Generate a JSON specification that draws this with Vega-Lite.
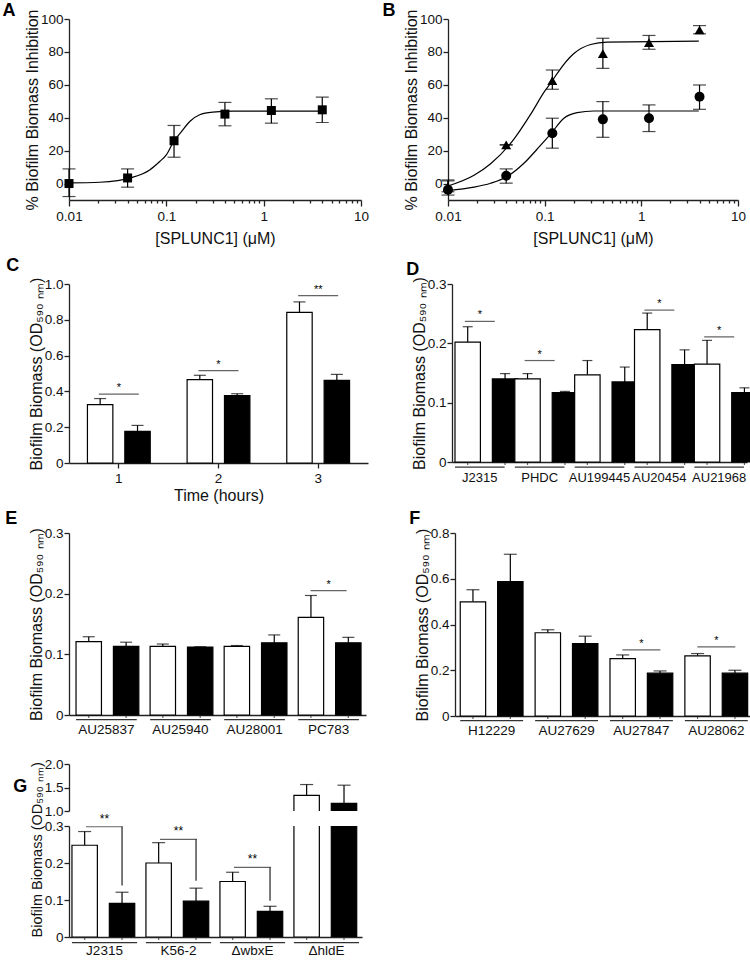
{
"$schema": "https://vega.github.io/schema/vega-lite/v6.json",
"background": "white",
"padding": {"left": 2, "top": 2, "right": 2, "bottom": 0},
"datasets": {
"curveA": [{"x":0.01,"y":0.4},{"x":0.0207,"y":0.8},{"x":0.0455,"y":3.9},{"x":0.0675,"y":8.3},{"x":0.0855,"y":13.4},{"x":0.1,"y":17.4},{"x":0.119,"y":25.6},{"x":0.143,"y":31.6},{"x":0.174,"y":37.7},{"x":0.22,"y":41.8},{"x":0.3,"y":43.4},{"x":0.48,"y":44},{"x":4.2,"y":44}],
"ptsA": [{"x":0.01,"y":0,"lo":-7.9,"hi":8.9},{"x":0.04,"y":3.4,"lo":-2.2,"hi":8.9},{"x":0.12,"y":26,"lo":16,"hi":35.3},{"x":0.4,"y":42.2,"lo":35.1,"hi":49.3},{"x":1.2,"y":44.4,"lo":36.7,"hi":51.5},{"x":4,"y":44.8,"lo":37.1,"hi":52.5}],
"curveB": [{"s":"t","x":0.01,"y":-1.5},{"s":"t","x":0.0186,"y":5},{"s":"t","x":0.0276,"y":12},{"s":"t","x":0.0481,"y":27},{"s":"t","x":0.0715,"y":42},{"s":"t","x":0.0997,"y":56},{"s":"t","x":0.12,"y":62.5},{"s":"t","x":0.135,"y":67},{"s":"t","x":0.2005,"y":79},{"s":"t","x":0.298,"y":84.5},{"s":"t","x":0.443,"y":86},{"s":"t","x":3.93,"y":86.5},
{"s":"c","x":0.01,"y":-4.3},{"s":"c","x":0.0186,"y":-2.2},{"s":"c","x":0.0276,"y":0.2},{"s":"c","x":0.041,"y":4.3},{"s":"c","x":0.061,"y":12.3},{"s":"c","x":0.0838,"y":21},{"s":"c","x":0.115,"y":30},{"s":"c","x":0.158,"y":39.7},{"s":"c","x":0.217,"y":43.1},{"s":"c","x":0.323,"y":44.1},{"s":"c","x":3.93,"y":44.1}],
"ptsB": [{"s":"t","x":0.01,"y":-2,"lo":-5,"hi":1.6},{"s":"t","x":0.04,"y":23.5,"lo":23.5,"hi":23.5},{"s":"t","x":0.12,"y":62.5,"lo":57.3,"hi":69},{"s":"t","x":0.4,"y":79,"lo":70,"hi":88.3},{"s":"t","x":1.2,"y":85.6,"lo":81.6,"hi":90},{"s":"t","x":4,"y":93.3,"lo":91,"hi":96},
{"s":"c","x":0.01,"y":-3.8,"lo":-7,"hi":2.2},{"s":"c","x":0.04,"y":4.7,"lo":0.2,"hi":8.9},{"s":"c","x":0.12,"y":30.6,"lo":21.5,"hi":39.7},{"s":"c","x":0.4,"y":39,"lo":28.1,"hi":49.8},{"s":"c","x":1.2,"y":39.7,"lo":31.6,"hi":47.8},{"s":"c","x":4,"y":52.8,"lo":45.1,"hi":59.9}],
"C": [{"g":"1","c":"w","v":0.326,"hi":0.36},{"g":"1","c":"b","v":0.177,"hi":0.21},{"g":"2","c":"w","v":0.466,"hi":0.49},{"g":"2","c":"b","v":0.376,"hi":0.387},{"g":"3","c":"w","v":0.842,"hi":0.9},{"g":"3","c":"b","v":0.462,"hi":0.495}],
"Csig": [{"g":"1","y":0.385,"s":"*"},{"g":"2","y":0.516,"s":"*"},{"g":"3","y":0.935,"s":"**"}],
"D": [{"g":"J2315","c":"w","v":0.202,"hi":0.228},{"g":"J2315","c":"b","v":0.14,"hi":0.149},{"g":"PHDC","c":"w","v":0.14,"hi":0.149},{"g":"PHDC","c":"b","v":0.117,"hi":0.119},{"g":"AU199445","c":"w","v":0.147,"hi":0.171},{"g":"AU199445","c":"b","v":0.135,"hi":0.16},{"g":"AU20454","c":"w","v":0.223,"hi":0.251},{"g":"AU20454","c":"b","v":0.164,"hi":0.189},{"g":"AU21968","c":"w","v":0.165,"hi":0.205},{"g":"AU21968","c":"b","v":0.117,"hi":0.125}],
"Dsig": [{"g":"J2315","y":0.237,"s":"*"},{"g":"PHDC","y":0.171,"s":"*"},{"g":"AU20454","y":0.256,"s":"*"},{"g":"AU21968","y":0.211,"s":"*"}],
"Dg": [{"g":"J2315"},{"g":"PHDC"},{"g":"AU199445"},{"g":"AU20454"},{"g":"AU21968"}],
"E": [{"g":"AU25837","c":"w","v":0.121,"hi":0.129},{"g":"AU25837","c":"b","v":0.113,"hi":0.12},{"g":"AU25940","c":"w","v":0.113,"hi":0.117},{"g":"AU25940","c":"b","v":0.112,"hi":0.1125},{"g":"AU28001","c":"w","v":0.113,"hi":0.1145},{"g":"AU28001","c":"b","v":0.119,"hi":0.132},{"g":"PC783","c":"w","v":0.161,"hi":0.197},{"g":"PC783","c":"b","v":0.119,"hi":0.128}],
"Esig": [{"g":"PC783","y":0.205,"s":"*"}],
"Eg": [{"g":"AU25837"},{"g":"AU25940"},{"g":"AU28001"},{"g":"PC783"}],
"F": [{"g":"H12229","c":"w","v":0.499,"hi":0.552},{"g":"H12229","c":"b","v":0.587,"hi":0.707},{"g":"AU27629","c":"w","v":0.364,"hi":0.377},{"g":"AU27629","c":"b","v":0.317,"hi":0.349},{"g":"AU27847","c":"w","v":0.251,"hi":0.267},{"g":"AU27847","c":"b","v":0.187,"hi":0.197},{"g":"AU28062","c":"w","v":0.263,"hi":0.273},{"g":"AU28062","c":"b","v":0.187,"hi":0.2}],
"Fsig": [{"g":"AU27847","y":0.289,"s":"*"},{"g":"AU28062","y":0.302,"s":"*"}],
"Fg": [{"g":"H12229"},{"g":"AU27629"},{"g":"AU27847"},{"g":"AU28062"}],
"G": [{"g":"J2315","c":"w","v":0.248,"hi":0.285},{"g":"J2315","c":"b","v":0.091,"hi":0.121},{"g":"K56-2","c":"w","v":0.2,"hi":0.255},{"g":"K56-2","c":"b","v":0.097,"hi":0.132},{"g":"ΔwbxE","c":"w","v":0.15,"hi":0.175},{"g":"ΔwbxE","c":"b","v":0.069,"hi":0.083},{"g":"ΔhldE","c":"w","v":1.331,"hi":1.563},{"g":"ΔhldE","c":"b","v":1.162,"hi":1.549}],
"Gsig": [{"g":"J2315","c":"b","y":0.298,"low":0.139,"s":"**"},{"g":"K56-2","c":"b","y":0.264,"low":0.152,"s":"**"},{"g":"ΔwbxE","c":"b","y":0.188,"low":0.098,"s":"**"}],
"Gg": [{"g":"J2315"},{"g":"K56-2"},{"g":"ΔwbxE"},{"g":"ΔhldE"}]
},
"config": {
"font": "Liberation Sans",
"view": {"stroke": null},
"axis": {"grid": false, "domainColor": "#222", "domainWidth": 1.3, "tickColor": "#222", "tickWidth": 1.3, "tickSize": 5, "labelColor": "#111", "labelFontSize": 13.5, "labelFont": "Liberation Sans", "titleFont": "Liberation Sans", "titleFontSize": 16, "titleFontWeight": "normal", "titleColor": "#111", "labelPadding": 3, "titlePadding": 3, "labelFlush": false, "labelOverlap": false},
"axisX": {"labelAngle": 0},
"axisY": {"titlePadding": 0, "labelPadding": 1},
"text": {"color": "black"},
"title": {"fontSize": 18, "fontWeight": "bold", "font": "Liberation Sans", "anchor": "start", "frame": "bounds", "color": "black", "offset": 2}
},
"spacing": 20,
"vconcat": [
{"vconcat": [
{"hconcat": [
{
"width": 292, "height": 181,
"title": {"text": "A", "dx": -22, "offset": -11},
"layer": [
{"data": {"name": "curveA"}, "mark": {"type": "line", "color": "black", "strokeWidth": 1.2, "interpolate": "monotone"},
 "encoding": {
  "x": {"field": "x", "type": "quantitative", "scale": {"type": "log", "domain": [0.01, 10]}, "title": "[SPLUNC1] (μM)",
        "axis": {"labelOverlap": false, "tickCount": 100, "titlePadding": 8, "values": [0.01,0.02,0.03,0.04,0.05,0.06,0.07,0.08,0.09,0.1,0.2,0.3,0.4,0.5,0.6,0.7,0.8,0.9,1,2,3,4,5,6,7,8,9,10],
                 "labelExpr": "datum.value == 0.01 ? '0.01' : datum.value == 0.1 ? '0.1' : datum.value == 1 ? '1' : datum.value == 10 ? '10' : ''",
                 "tickSize": {"condition": {"test": "datum.value == 0.01 || datum.value == 0.1 || datum.value == 1 || datum.value == 10", "value": 6}, "value": 3}}},
  "y": {"field": "y", "type": "quantitative", "scale": {"domain": [-10, 100], "nice": false}, "title": "% Biofilm Biomass Inhibition", "axis": {"labelOverlap": false, "tickCount": 100, "values": [0,20,40,60,80,100]}}
 }},
{"data": {"name": "ptsA"}, "encoding": {"x": {"field": "x", "type": "quantitative"}},
 "layer": [
  {"mark": {"type": "rule", "color": "black", "strokeWidth": 1.2}, "encoding": {"y": {"field": "lo", "type": "quantitative"}, "y2": {"field": "hi"}}},
  {"mark": {"type": "tick", "orient": "horizontal", "color": "black", "size": 13, "thickness": 1.2}, "encoding": {"y": {"field": "hi", "type": "quantitative"}}},
  {"mark": {"type": "tick", "orient": "horizontal", "color": "black", "size": 13, "thickness": 1.2}, "encoding": {"y": {"field": "lo", "type": "quantitative"}}},
  {"mark": {"type": "point", "shape": "square", "filled": true, "color": "black", "size": 81, "opacity": 1}, "encoding": {"y": {"field": "y", "type": "quantitative"}}}
 ]}
]
},
{
"width": 290, "height": 181,
"title": {"text": "B", "dx": -21, "offset": -11},
"layer": [
{"data": {"name": "curveB"}, "mark": {"type": "line", "color": "black", "strokeWidth": 1.2, "interpolate": "monotone"},
 "encoding": {
  "detail": {"field": "s"},
  "x": {"field": "x", "type": "quantitative", "scale": {"type": "log", "domain": [0.01, 10]}, "title": "[SPLUNC1] (μM)",
        "axis": {"labelOverlap": false, "tickCount": 100, "titlePadding": 8, "values": [0.01,0.02,0.03,0.04,0.05,0.06,0.07,0.08,0.09,0.1,0.2,0.3,0.4,0.5,0.6,0.7,0.8,0.9,1,2,3,4,5,6,7,8,9,10],
                 "labelExpr": "datum.value == 0.01 ? '0.01' : datum.value == 0.1 ? '0.1' : datum.value == 1 ? '1' : datum.value == 10 ? '10' : ''",
                 "tickSize": {"condition": {"test": "datum.value == 0.01 || datum.value == 0.1 || datum.value == 1 || datum.value == 10", "value": 6}, "value": 3}}},
  "y": {"field": "y", "type": "quantitative", "scale": {"domain": [-10, 100], "nice": false}, "title": "% Biofilm Biomass Inhibition", "axis": {"labelOverlap": false, "tickCount": 100, "values": [0,20,40,60,80,100]}}
 }},
{"data": {"name": "ptsB"}, "encoding": {"x": {"field": "x", "type": "quantitative"}},
 "layer": [
  {"mark": {"type": "rule", "color": "black", "strokeWidth": 1.2}, "encoding": {"y": {"field": "lo", "type": "quantitative"}, "y2": {"field": "hi"}}},
  {"mark": {"type": "tick", "orient": "horizontal", "color": "black", "size": 13, "thickness": 1.2}, "encoding": {"y": {"field": "hi", "type": "quantitative"}}},
  {"mark": {"type": "tick", "orient": "horizontal", "color": "black", "size": 13, "thickness": 1.2}, "encoding": {"y": {"field": "lo", "type": "quantitative"}}},
  {"mark": {"type": "point", "filled": true, "color": "black", "size": 100, "opacity": 1}, "encoding": {"y": {"field": "y", "type": "quantitative"}, "shape": {"field": "s", "scale": {"domain": ["t","c"], "range": ["triangle-up","circle"]}, "legend": null}}}
 ]}
]
}
], "spacing": 13},
{"vconcat": [
{"hconcat": [
{
"width": 299, "height": 179,
"title": {"text": "C", "dx": -22, "dy": 0},
"layer": [
{"data": {"name": "C"},
 "encoding": {
  "x": {"field": "g", "type": "nominal", "scale": {"domain": ["1","2","3"], "paddingInner": 0.37, "paddingOuter": 0.185}, "axis": {"title": "Time (hours)", "tickSize": 5, "labelOverlap": false}},
  "xOffset": {"field": "c", "type": "nominal", "scale": {"domain": ["w","b"], "paddingInner": 0.32, "paddingOuter": 0}}
 },
 "layer": [
  {"mark": {"type": "rule", "color": "black", "strokeWidth": 1.2}, "encoding": {"y": {"field": "v", "type": "quantitative", "scale": {"domain": [0,1], "nice": false}}, "y2": {"field": "hi"}}},
  {"mark": {"type": "tick", "orient": "horizontal", "color": "black", "size": 12, "thickness": 1.2}, "encoding": {"y": {"field": "hi", "type": "quantitative", "scale": {"domain": [0,1], "nice": false}}}},
  {"mark": {"type": "bar", "stroke": "black", "strokeWidth": 1.2}, "encoding": {
    "y": {"field": "v", "type": "quantitative", "scale": {"domain": [0,1], "nice": false}, "title": "Biofilm Biomass (OD₅₉₀ ₙₘ)", "axis": {"labelOverlap": false, "tickCount": 100, "values": [0,0.2,0.4,0.6,0.8,1], "labelExpr": "datum.value == 0 ? '0' : format(datum.value, '.1f')"}},
    "fill": {"field": "c", "type": "nominal", "scale": {"domain": ["w","b"], "range": ["white","black"]}, "legend": null}}}
 ]},
{"data": {"name": "Csig"},
 "encoding": {"x": {"field": "g", "type": "nominal", "scale": {"domain": ["1","2","3"], "paddingInner": 0.37, "paddingOuter": 0.185}}, "y": {"field": "y", "type": "quantitative", "scale": {"domain": [0,1], "nice": false}}},
 "layer": [
  {"mark": {"type": "tick", "orient": "horizontal", "color": "#222", "size": 40, "thickness": 1.2}},
  {"mark": {"type": "text", "color": "black", "fontSize": 11, "baseline": "bottom", "dy": -1}, "encoding": {"text": {"field": "s"}}}
 ]}
]
},
{
"width": 295, "height": 178,
"title": {"text": "D", "dx": -5, "dy": 4},
"layer": [
{"data": {"name": "Dg"}, "mark": {"type": "bar", "color": "#333"},
 "encoding": {"x": {"field": "g", "type": "nominal", "scale": {"domain": ["J2315","PHDC","AU199445","AU20454","AU21968"], "paddingInner": 0.17, "paddingOuter": 0.05}},
  "y": {"datum": -0.0076, "type": "quantitative", "scale": {"domain": [0,0.3], "nice": false}}, "y2": {"datum": -0.0098}}},
{"data": {"name": "D"},
 "encoding": {
  "x": {"field": "g", "type": "nominal", "scale": {"domain": ["J2315","PHDC","AU199445","AU20454","AU21968"], "paddingInner": 0.17, "paddingOuter": 0.05}, "axis": {"title": null, "ticks": false, "labelPadding": 9, "labelOverlap": false, "labelFontSize": 13}},
  "xOffset": {"field": "c", "type": "nominal", "scale": {"domain": ["w","b"], "paddingInner": 0.28, "paddingOuter": 0}}
 },
 "layer": [
  {"mark": {"type": "tick", "orient": "vertical", "color": "#222", "size": 6, "thickness": 1.2}, "encoding": {"y": {"datum": 0, "type": "quantitative", "scale": {"domain": [0,0.3], "nice": false}}}},
  {"mark": {"type": "rule", "color": "black", "strokeWidth": 1.2}, "encoding": {"y": {"field": "v", "type": "quantitative", "scale": {"domain": [0,0.3], "nice": false}}, "y2": {"field": "hi"}}},
  {"mark": {"type": "tick", "orient": "horizontal", "color": "black", "size": 10, "thickness": 1.2}, "encoding": {"y": {"field": "hi", "type": "quantitative", "scale": {"domain": [0,0.3], "nice": false}}}},
  {"mark": {"type": "bar", "stroke": "black", "strokeWidth": 1.2}, "encoding": {
    "y": {"field": "v", "type": "quantitative", "scale": {"domain": [0,0.3], "nice": false}, "title": "Biofilm Biomass (OD₅₉₀ ₙₘ)", "axis": {"labelOverlap": false, "tickCount": 100, "values": [0,0.1,0.2,0.3], "labelExpr": "datum.value == 0 ? '0' : format(datum.value, '.1f')"}},
    "fill": {"field": "c", "type": "nominal", "scale": {"domain": ["w","b"], "range": ["white","black"]}, "legend": null}}}
 ]},
{"data": {"name": "Dsig"},
 "encoding": {"x": {"field": "g", "type": "nominal", "scale": {"domain": ["J2315","PHDC","AU199445","AU20454","AU21968"], "paddingInner": 0.17, "paddingOuter": 0.05}}, "y": {"field": "y", "type": "quantitative", "scale": {"domain": [0,0.3], "nice": false}}},
 "layer": [
  {"mark": {"type": "tick", "orient": "horizontal", "color": "#222", "size": 30, "thickness": 1.2}},
  {"mark": {"type": "text", "color": "black", "fontSize": 11, "baseline": "bottom", "dy": -1}, "encoding": {"text": {"field": "s"}}}
 ]}
]
}
], "spacing": 38},
{"hconcat": [
{
"width": 297, "height": 182,
"title": {"text": "E", "dx": -23, "dy": 4},
"layer": [
{"data": {"name": "Eg"}, "mark": {"type": "bar", "color": "#333"},
 "encoding": {"x": {"field": "g", "type": "nominal", "scale": {"domain": ["AU25837","AU25940","AU28001","PC783"], "paddingInner": 0.18, "paddingOuter": 0.095}},
  "y": {"datum": -0.0066, "type": "quantitative", "scale": {"domain": [0,0.3], "nice": false}}, "y2": {"datum": -0.0088}}},
{"data": {"name": "E"},
 "encoding": {
  "x": {"field": "g", "type": "nominal", "scale": {"domain": ["AU25837","AU25940","AU28001","PC783"], "paddingInner": 0.18, "paddingOuter": 0.095}, "axis": {"title": null, "ticks": false, "labelPadding": 7, "labelOverlap": false}},
  "xOffset": {"field": "c", "type": "nominal", "scale": {"domain": ["w","b"], "paddingInner": 0.32, "paddingOuter": 0}}
 },
 "layer": [
  {"mark": {"type": "tick", "orient": "vertical", "color": "#222", "size": 6, "thickness": 1.2}, "encoding": {"y": {"datum": 0, "type": "quantitative", "scale": {"domain": [0,0.3], "nice": false}}}},
  {"mark": {"type": "rule", "color": "black", "strokeWidth": 1.2}, "encoding": {"y": {"field": "v", "type": "quantitative", "scale": {"domain": [0,0.3], "nice": false}}, "y2": {"field": "hi"}}},
  {"mark": {"type": "tick", "orient": "horizontal", "color": "black", "size": 12, "thickness": 1.2}, "encoding": {"y": {"field": "hi", "type": "quantitative", "scale": {"domain": [0,0.3], "nice": false}}}},
  {"mark": {"type": "bar", "stroke": "black", "strokeWidth": 1.2}, "encoding": {
    "y": {"field": "v", "type": "quantitative", "scale": {"domain": [0,0.3], "nice": false}, "title": "Biofilm Biomass (OD₅₉₀ ₙₘ)", "axis": {"labelOverlap": false, "tickCount": 100, "values": [0,0.1,0.2,0.3], "labelExpr": "datum.value == 0 ? '0' : format(datum.value, '.1f')"}},
    "fill": {"field": "c", "type": "nominal", "scale": {"domain": ["w","b"], "range": ["white","black"]}, "legend": null}}}
 ]},
{"data": {"name": "Esig"},
 "encoding": {"x": {"field": "g", "type": "nominal", "scale": {"domain": ["AU25837","AU25940","AU28001","PC783"], "paddingInner": 0.18, "paddingOuter": 0.095}}, "y": {"field": "y", "type": "quantitative", "scale": {"domain": [0,0.3], "nice": false}}},
 "layer": [
  {"mark": {"type": "tick", "orient": "horizontal", "color": "#222", "size": 36, "thickness": 1.2}},
  {"mark": {"type": "text", "color": "black", "fontSize": 11, "baseline": "bottom", "dy": -1}, "encoding": {"text": {"field": "s"}}}
 ]}
]
},
{
"width": 298, "height": 183,
"title": {"text": "F", "dx": -5, "dy": 4},
"layer": [
{"data": {"name": "Fg"}, "mark": {"type": "bar", "color": "#333"},
 "encoding": {"x": {"field": "g", "type": "nominal", "scale": {"domain": ["H12229","AU27629","AU27847","AU28062"], "paddingInner": 0.16, "paddingOuter": 0.07}},
  "y": {"datum": -0.0175, "type": "quantitative", "scale": {"domain": [0,0.8], "nice": false}}, "y2": {"datum": -0.0232}}},
{"data": {"name": "F"},
 "encoding": {
  "x": {"field": "g", "type": "nominal", "scale": {"domain": ["H12229","AU27629","AU27847","AU28062"], "paddingInner": 0.16, "paddingOuter": 0.07}, "axis": {"title": null, "ticks": false, "labelPadding": 7, "labelOverlap": false}},
  "xOffset": {"field": "c", "type": "nominal", "scale": {"domain": ["w","b"], "paddingInner": 0.3, "paddingOuter": 0}}
 },
 "layer": [
  {"mark": {"type": "tick", "orient": "vertical", "color": "#222", "size": 6, "thickness": 1.2}, "encoding": {"y": {"datum": 0, "type": "quantitative", "scale": {"domain": [0,0.8], "nice": false}}}},
  {"mark": {"type": "rule", "color": "black", "strokeWidth": 1.2}, "encoding": {"y": {"field": "v", "type": "quantitative", "scale": {"domain": [0,0.8], "nice": false}}, "y2": {"field": "hi"}}},
  {"mark": {"type": "tick", "orient": "horizontal", "color": "black", "size": 13, "thickness": 1.2}, "encoding": {"y": {"field": "hi", "type": "quantitative", "scale": {"domain": [0,0.8], "nice": false}}}},
  {"mark": {"type": "bar", "stroke": "black", "strokeWidth": 1.2}, "encoding": {
    "y": {"field": "v", "type": "quantitative", "scale": {"domain": [0,0.8], "nice": false}, "title": "Biofilm Biomass (OD₅₉₀ ₙₘ)", "axis": {"labelOverlap": false, "tickCount": 100, "values": [0,0.2,0.4,0.6,0.8], "labelExpr": "datum.value == 0 ? '0' : format(datum.value, '.1f')"}},
    "fill": {"field": "c", "type": "nominal", "scale": {"domain": ["w","b"], "range": ["white","black"]}, "legend": null}}}
 ]},
{"data": {"name": "Fsig"},
 "encoding": {"x": {"field": "g", "type": "nominal", "scale": {"domain": ["H12229","AU27629","AU27847","AU28062"], "paddingInner": 0.16, "paddingOuter": 0.07}}, "y": {"field": "y", "type": "quantitative", "scale": {"domain": [0,0.8], "nice": false}}},
 "layer": [
  {"mark": {"type": "tick", "orient": "horizontal", "color": "#222", "size": 38, "thickness": 1.2}},
  {"mark": {"type": "text", "color": "black", "fontSize": 11, "baseline": "bottom", "dy": -1}, "encoding": {"text": {"field": "s"}}}
 ]}
]
}
], "spacing": 43}
], "spacing": 6}
], "spacing": 10},
{"vconcat": [
{
"width": 293, "height": 47,
"title": {"text": "G", "dx": -31, "offset": -11, "dy": 28},
"data": {"name": "G"},
"transform": [{"filter": "datum.v > 1"}],
"encoding": {
 "x": {"field": "g", "type": "nominal", "scale": {"domain": ["J2315","K56-2","ΔwbxE","ΔhldE"], "paddingInner": 0.12, "paddingOuter": 0.04}, "axis": null},
 "xOffset": {"field": "c", "type": "nominal", "scale": {"domain": ["w","b"], "paddingInner": 0.33, "paddingOuter": 0}}
},
"layer": [
 {"mark": {"type": "rule", "color": "black", "strokeWidth": 1.2}, "encoding": {"y": {"field": "v", "type": "quantitative", "scale": {"domain": [1,2], "nice": false}}, "y2": {"field": "hi"}}},
 {"mark": {"type": "tick", "orient": "horizontal", "color": "black", "size": 13, "thickness": 1.2}, "encoding": {"y": {"field": "hi", "type": "quantitative", "scale": {"domain": [1,2], "nice": false}}}},
 {"mark": {"type": "bar", "stroke": "black", "strokeWidth": 1.2, "clip": true}, "encoding": {
   "y": {"field": "v", "type": "quantitative", "scale": {"domain": [1,2], "nice": false}, "title": null, "axis": {"labelOverlap": false, "tickCount": 100, "values": [1,1.5,2], "format": ".1f"}},
   "y2": {"datum": 0.9},
   "fill": {"field": "c", "type": "nominal", "scale": {"domain": ["w","b"], "range": ["white","black"]}, "legend": null}}}
]
},
{
"width": 293, "height": 111,
"layer": [
{"data": {"name": "Gg"}, "mark": {"type": "bar", "color": "#333"},
 "encoding": {"x": {"field": "g", "type": "nominal", "scale": {"domain": ["J2315","K56-2","ΔwbxE","ΔhldE"], "paddingInner": 0.12, "paddingOuter": 0.04}},
  "y": {"datum": -0.0135, "type": "quantitative", "scale": {"domain": [0,0.3], "nice": false}}, "y2": {"datum": -0.017}}},
{"data": {"name": "G"},
 "encoding": {
  "x": {"field": "g", "type": "nominal", "scale": {"domain": ["J2315","K56-2","ΔwbxE","ΔhldE"], "paddingInner": 0.12, "paddingOuter": 0.04}, "axis": {"title": null, "ticks": false, "labelPadding": 6, "labelOverlap": false}},
  "xOffset": {"field": "c", "type": "nominal", "scale": {"domain": ["w","b"], "paddingInner": 0.33, "paddingOuter": 0}}
 },
 "layer": [
  {"mark": {"type": "tick", "orient": "vertical", "color": "#222", "size": 6, "thickness": 1.2}, "encoding": {"y": {"datum": 0, "type": "quantitative", "scale": {"domain": [0,0.3], "nice": false}}}},
  {"transform": [{"filter": "datum.v < 1"}], "mark": {"type": "rule", "color": "black", "strokeWidth": 1.2}, "encoding": {"y": {"field": "v", "type": "quantitative", "scale": {"domain": [0,0.3], "nice": false}}, "y2": {"field": "hi"}}},
  {"transform": [{"filter": "datum.v < 1"}], "mark": {"type": "tick", "orient": "horizontal", "color": "black", "size": 13, "thickness": 1.2}, "encoding": {"y": {"field": "hi", "type": "quantitative", "scale": {"domain": [0,0.3], "nice": false}}}},
  {"mark": {"type": "bar", "stroke": "black", "strokeWidth": 1.2, "clip": true}, "encoding": {
    "y": {"field": "v", "type": "quantitative", "scale": {"domain": [0,0.3], "nice": false}, "title": "Biofilm Biomass (OD₅₉₀ ₙₘ)", "axis": {"labelOverlap": false, "tickCount": 100, "values": [0,0.1,0.2,0.3], "labelExpr": "datum.value == 0 ? '0' : format(datum.value, '.1f')", "titleAnchor": "start", "titleFontSize": 14.5}},
    "fill": {"field": "c", "type": "nominal", "scale": {"domain": ["w","b"], "range": ["white","black"]}, "legend": null}}}
 ]},
{"data": {"name": "Gsig"},
 "encoding": {"x": {"field": "g", "type": "nominal", "scale": {"domain": ["J2315","K56-2","ΔwbxE","ΔhldE"], "paddingInner": 0.12, "paddingOuter": 0.04}}},
 "layer": [
  {"mark": {"type": "tick", "orient": "horizontal", "color": "#222", "size": 37, "thickness": 1.2}, "encoding": {"y": {"field": "y", "type": "quantitative", "scale": {"domain": [0,0.3], "nice": false}}}},
  {"mark": {"type": "rule", "color": "#222", "strokeWidth": 1.2}, "encoding": {"xOffset": {"field": "c", "type": "nominal", "scale": {"domain": ["w","b"], "paddingInner": 0.33, "paddingOuter": 0}}, "y": {"field": "y", "type": "quantitative", "scale": {"domain": [0,0.3], "nice": false}}, "y2": {"field": "low"}}},
  {"mark": {"type": "text", "color": "black", "fontSize": 12, "baseline": "bottom", "dy": -1}, "encoding": {"y": {"field": "y", "type": "quantitative", "scale": {"domain": [0,0.3], "nice": false}}, "text": {"field": "s"}}}
 ]}
]
}
], "spacing": 15, "bounds": "flush"}
]
}
